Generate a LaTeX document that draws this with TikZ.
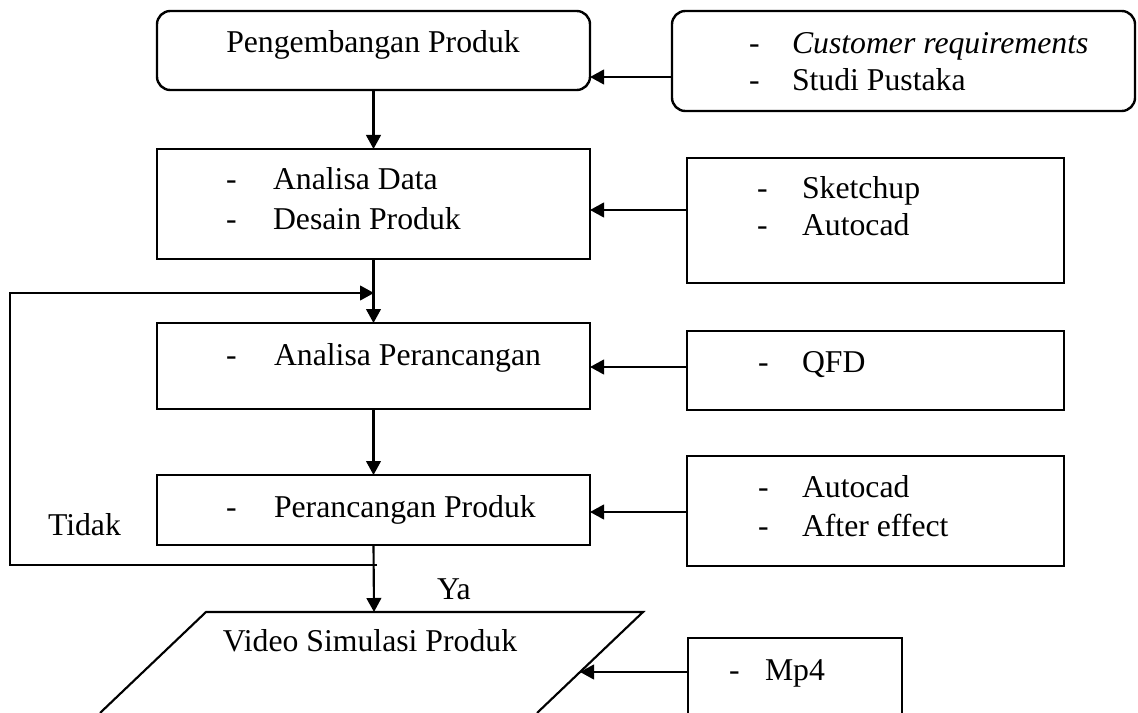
\documentclass[tikz,border=0pt]{standalone}
\usepackage{fontspec}
\setmainfont{Liberation Serif}
\usetikzlibrary{arrows.meta,fit}
\begin{document}
\begin{tikzpicture}[x=0.75pt,y=-0.75pt,
  box/.style={draw,line width=1.8pt,inner sep=0pt,outer sep=0pt},
  rbox/.style={box,rounded corners=10pt},
  txt/.style={inner sep=0pt,outer sep=0pt,anchor=base west,font=\fontsize{23.8}{28}\selectfont},
  ctxt/.style={txt,anchor=base},
  conn/.style={line width=1.6pt,-{Triangle[length=10.5pt,width=11pt]}},
  plain/.style={line width=1.6pt}]
\useasboundingbox (0,0) rectangle (1138,713);
\clip (0,0) rectangle (1138,713);
% left column
\node[rbox,fit={(157,11) (590,90)}] (b1) {};
\node[ctxt] (t1) at (373,53) {Pengembangan Produk};
\node[box,fit={(157,149) (590,259)}] (b2) {};
\node[txt] (t2a) at (226,190) {-};
\node[txt] (t2b) at (273,190) {Analisa Data};
\node[txt] (t2c) at (226,229) {-};
\node[txt] (t2d) at (273,229) {Desain Produk};
\node[box,fit={(157,323) (590,409)}] (b3) {};
\node[txt] (t3a) at (226,365) {-};
\node[txt] (t3b) at (274,365) {Analisa Perancangan};
\node[box,fit={(157,475) (590,545)}] (b4) {};
\node[txt] (t4a) at (226,517) {-};
\node[txt] (t4b) at (274,517) {Perancangan Produk};
% parallelogram
\coordinate (pTL) at (206,612);
\coordinate (pTR) at (643,612);
\coordinate (pBL) at (100,713);
\coordinate (pBR) at (537,713);
\coordinate (pTop) at (374,612);
\coordinate (pRight) at (580,672);
\draw[plain] (pBL) -- (pTL) -- (pTR) -- (pBR);
\node[ctxt] (t5) at (370,651) {Video Simulasi Produk};
% right column
\node[rbox,fit={(672,11) (1135,111)}] (r1) {};
\node[txt] (u1a) at (749,54) {-};
\node[txt] (u1b) at (792,54) {\itshape Customer requirements};
\node[txt] (u1c) at (749,91) {-};
\node[txt] (u1d) at (792,91) {Studi Pustaka};
\node[box,fit={(687,158) (1064,283)}] (r2) {};
\node[txt] (u2a) at (757,198) {-};
\node[txt] (u2b) at (802,198) {Sketchup};
\node[txt] (u2c) at (757,235) {-};
\node[txt] (u2d) at (802,235) {Autocad};
\node[box,fit={(687,331) (1064,410)}] (r3) {};
\node[txt] (u3a) at (758,372) {-};
\node[txt] (u3b) at (802,372) {QFD};
\node[box,fit={(687,456) (1064,566)}] (r4) {};
\node[txt] (u4a) at (758,497) {-};
\node[txt] (u4b) at (802,497) {Autocad};
\node[txt] (u4c) at (758,536) {-};
\node[txt] (u4d) at (802,536) {After effect};
\node[box,fit={(688,638) (902,740)}] (r5) {};
\node[txt] (u5a) at (729,680) {-};
\node[txt] (u5b) at (765,680) {Mp4};
% labels
\node[txt] (tidak) at (48,535) {Tidak};
\node[txt] (ya) at (437,599) {Ya};
% connectors
\draw[conn] (b1.south) -- (b2.north);
\draw[conn] (b2.south) -- (b3.north);
\draw[conn] (b3.south) -- (b4.north);
\draw[conn] (b4.south) -- (pTop);
\coordinate (fb0) at (377,565);
\coordinate (fb1) at (10,565);
\coordinate (fb2) at (10,293);
\coordinate (fb3) at (374,293);
\draw[conn] (fb0) -- (fb1) -- (fb2) -- (fb3);
\draw[conn] (r1.west |- 0,77) -- (b1.east |- 0,77);
\draw[conn] (r2.west |- 0,210) -- (b2.east |- 0,210);
\draw[conn] (r3.west |- 0,367) -- (b3.east |- 0,367);
\draw[conn] (r4.west |- 0,512) -- (b4.east |- 0,512);
\draw[conn] (r5.west |- pRight) -- (pRight);
\end{tikzpicture}
\end{document}
